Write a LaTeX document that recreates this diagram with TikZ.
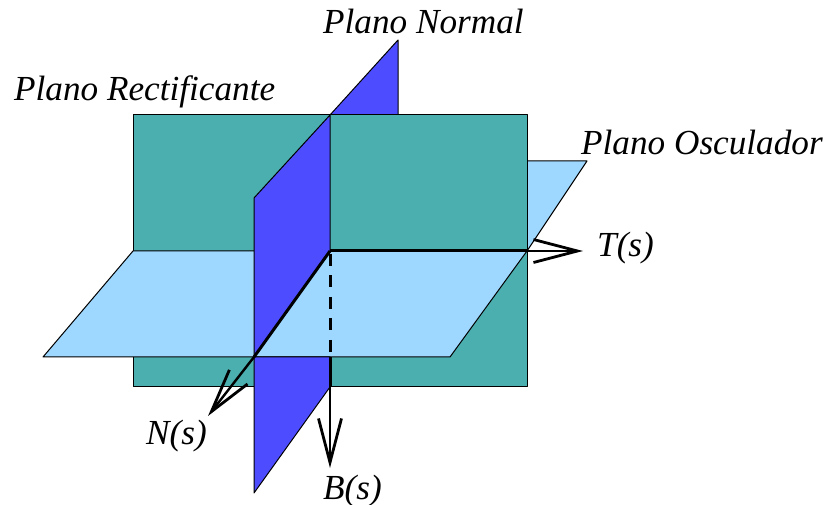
\documentclass[tikz,border=0pt]{standalone}
\usepackage{fontspec}
\setmainfont{Liberation Serif}
\usetikzlibrary{arrows.meta}
\definecolor{rectificante}{RGB}{76,175,175}
\definecolor{normalplane}{RGB}{77,77,255}
\definecolor{osculador}{RGB}{158,215,255}

\begin{document}
\begin{tikzpicture}[
    x=1pt, y=-1pt,
    plane/.style={draw=black, line width=1pt, line join=round},
    axis/.style={-{Straight Barb[length=44pt, width=23pt, line width=2.8pt]}, line width=2.4pt},
    axisthick/.style={line width=3pt},
    lbl/.style={anchor=base west, inner sep=0pt, font=\fontsize{35.2}{38}\selectfont\itshape},
]
\useasboundingbox (0,0) rectangle (823,505);

% Origin and axis ends
\coordinate (orig) at (330,251);
\coordinate (edgeT) at (527,251);
\coordinate (tipT) at (583,251);
\coordinate (tipN) at (208,416);
\coordinate (footN) at (254,357);
\coordinate (footB) at (330,357);
\coordinate (edgeB) at (330,387);
\coordinate (tipB) at (330,468);

% Back parts
\draw[plane, fill=osculador] (527,161) -- (587,161) -- (edgeT) -- cycle;
\draw[plane, fill=normalplane] (330,115) -- (398,40) -- (398,115) -- cycle;
\draw[plane, fill=rectificante] (133,115) rectangle (527,387);

% Front parts
\draw[plane, fill=osculador] (133,251) -- (edgeT) -- (450,357) -- (43,357) -- cycle;
\draw[plane, fill=normalplane] (254,198) -- (330,115) -- (orig) -- (footN) -- cycle;
\draw[plane, fill=normalplane] (footN) -- (footB) -- (edgeB) -- (254,493) -- cycle;

% Axes
\draw[axisthick] (orig) -- (edgeT);
\draw[axis] (edgeT) -- (tipT);
\draw[axisthick] (orig) -- (footN);
\draw[axis] (footN) -- (tipN);
\draw[line width=3pt, dash pattern=on 12pt off 9.5pt, dash phase=18.5pt] (orig) -- (footB);
\draw[axisthick] (footB) -- (edgeB);
\draw[axis] (edgeB) -- (tipB);

% Labels
\node[lbl] (normal) at (323,34) {Plano Normal};
\node[lbl] (rect) at (14,101) {Plano Rectificante};
\node[lbl] (oscul) at (581,155) {Plano Osculador};
\node[lbl] (labT) at (597,257) {T(s)};
\node[lbl] (labN) at (146,444) {N(s)};
\node[lbl] (labB) at (323,499) {B(s)};

\end{tikzpicture}
\end{document}
